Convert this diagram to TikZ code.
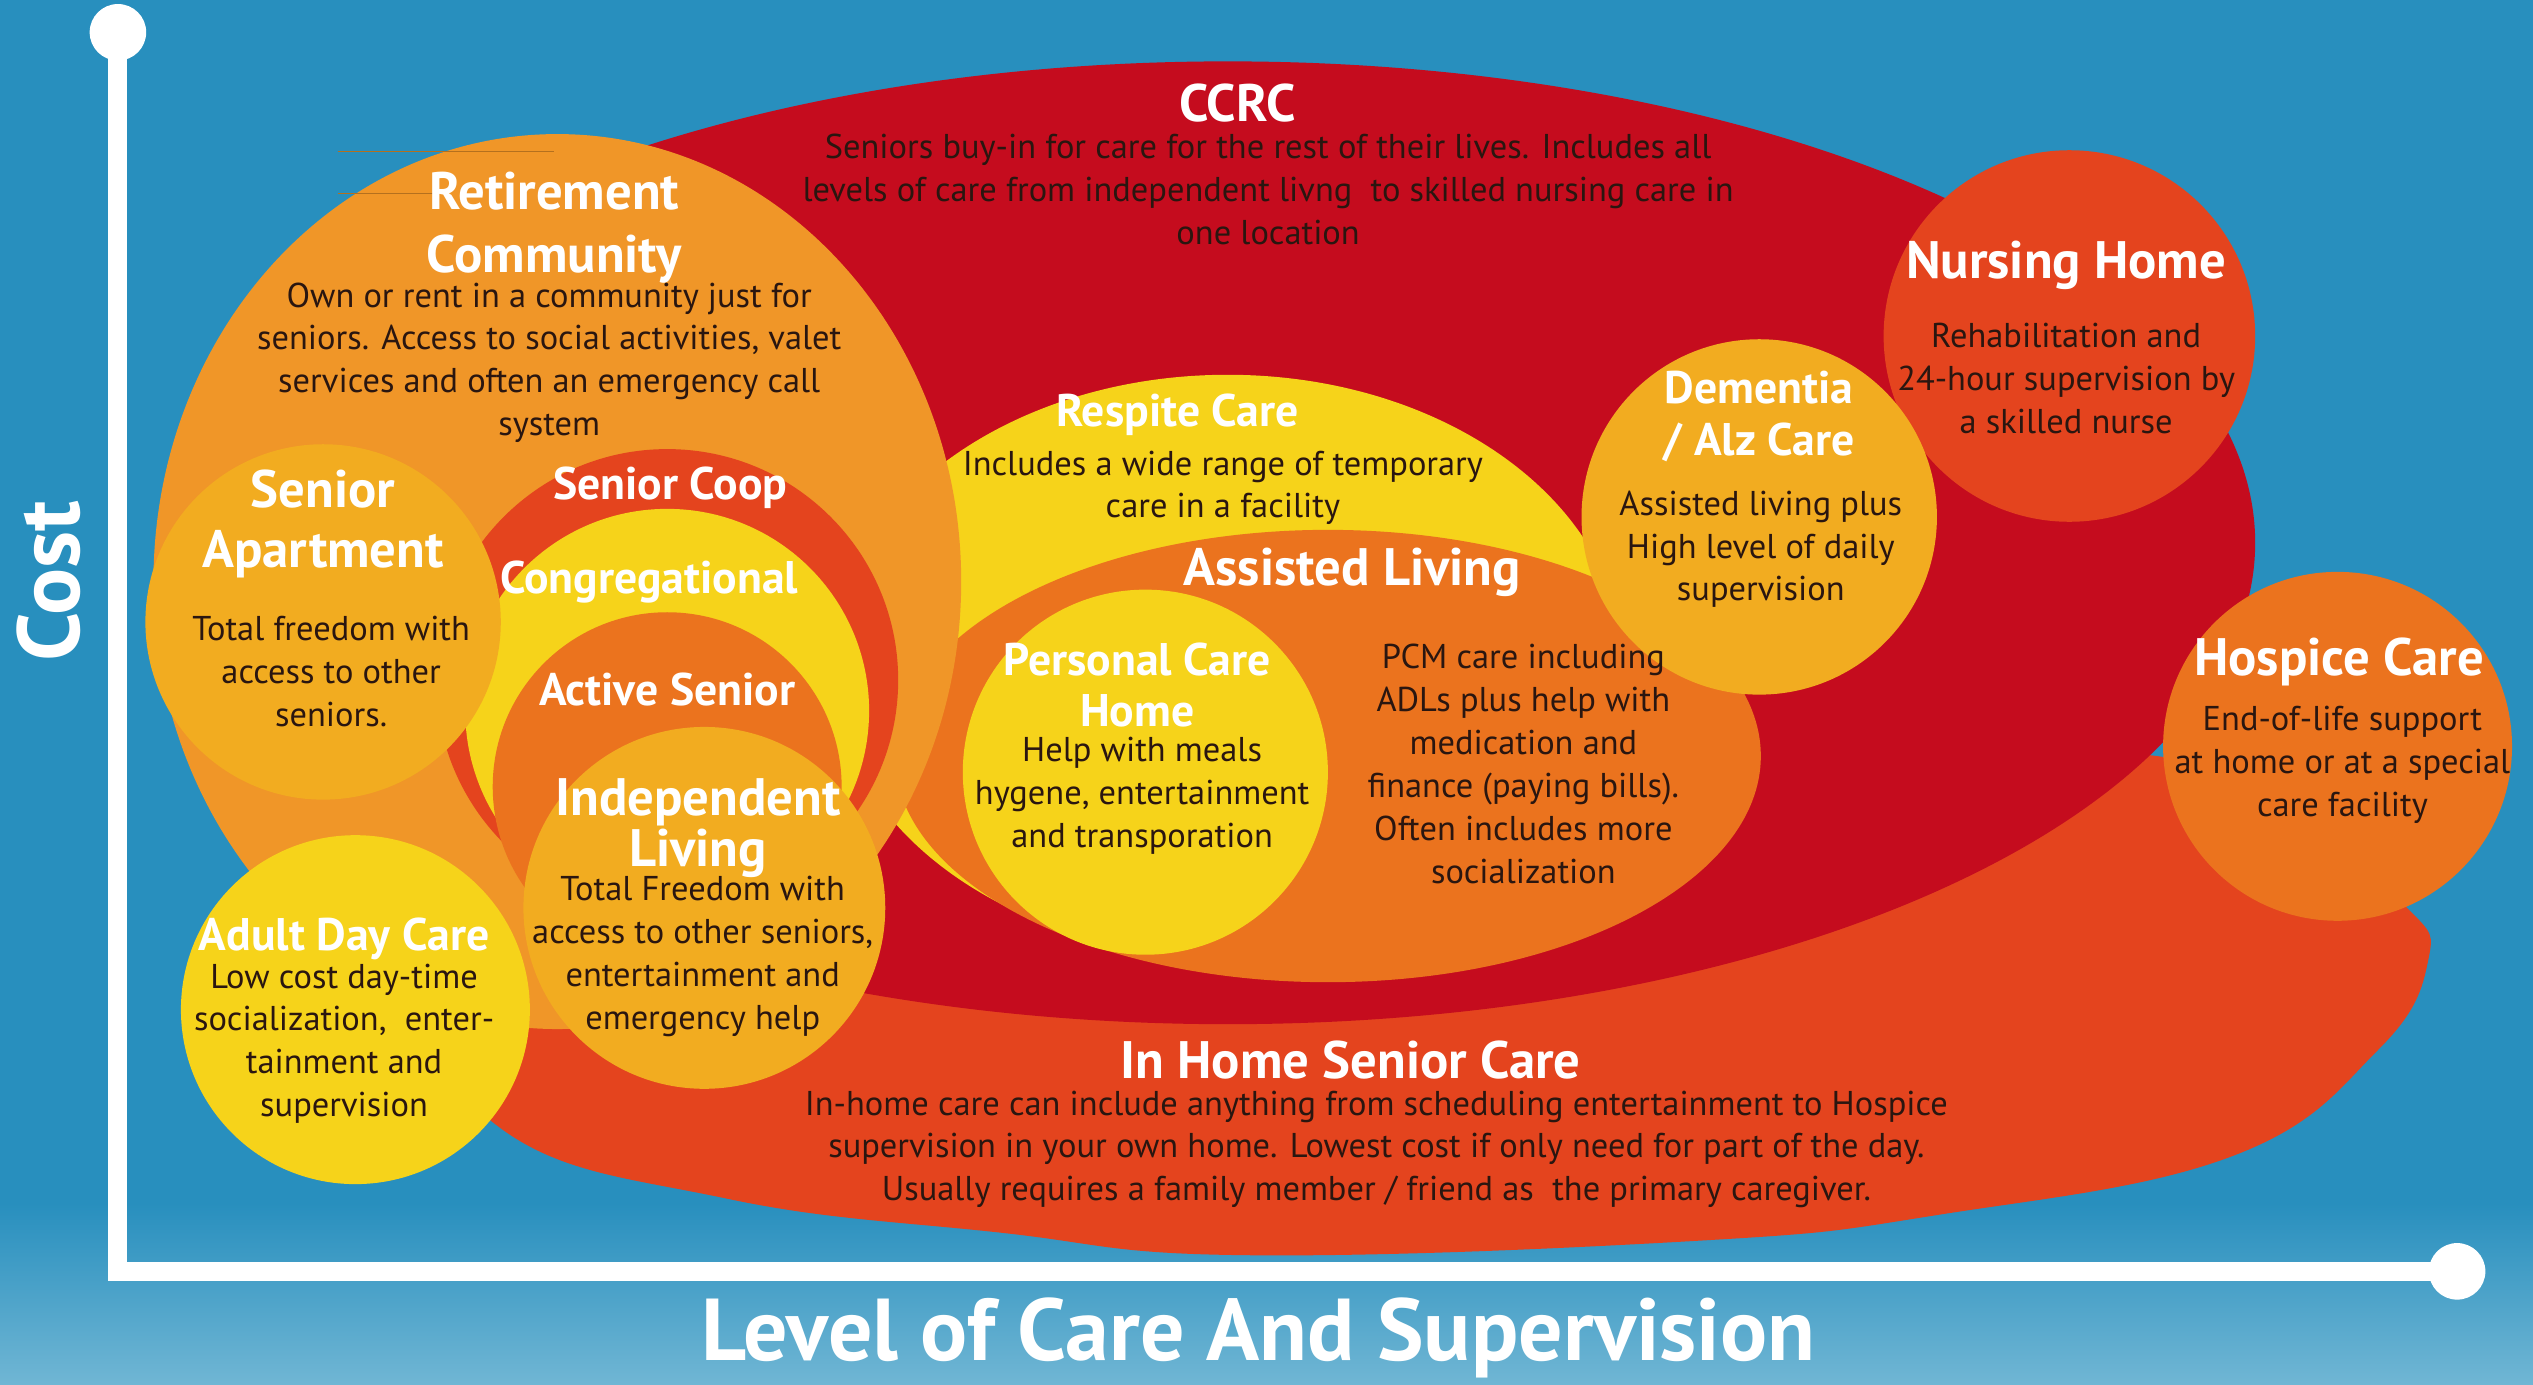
\documentclass[tikz,border=0pt]{standalone}
\usepackage{fontspec}
\setmainfont{PT Sans}
\usepackage{tikz}
\usetikzlibrary{positioning}

\definecolor{bgblue}{RGB}{40,143,190}
\definecolor{bglight}{RGB}{112,182,212}
\definecolor{ccrcred}{RGB}{197,12,30}
\definecolor{deeporange}{RGB}{228,68,30}
\definecolor{midorange}{RGB}{235,115,30}
\definecolor{lightorange}{RGB}{240,150,40}
\definecolor{goldfill}{RGB}{242,172,32}
\definecolor{sunyellow}{RGB}{246,211,26}
\definecolor{bodyink}{RGB}{42,22,16}

\tikzset{
  bubbletitle/.style={text=white, font=\bfseries\fontsize{13}{17.5}\selectfont, align=center, inner sep=0pt},
  bigtitle/.style={bubbletitle, font=\bfseries\fontsize{15}{17.5}\selectfont},
  bubbletext/.style={text=bodyink, font=\fontsize{9.8}{12.2}\selectfont, align=center, inner sep=0pt},
  axislabel/.style={text=white, font=\bfseries\fontsize{25}{30}\selectfont, inner sep=0pt},
}

\begin{document}
\begin{tikzpicture}[x=0.016155cm, y=-0.016155cm]
  \useasboundingbox (0,0) rectangle (1568,857);
  % Background
  \fill[bgblue] (0,0) rectangle (1568,857);
  \shade[top color=bgblue, bottom color=bglight] (0,745) rectangle (1568,857);

  % Bubbles, back to front
  \fill[deeporange] plot[smooth cycle, tension=0.7] coordinates {
    (250,590) (308,697) (450,742) (619,763) (771,777) (1052,768) (1200,752)
    (1381,716) (1472,650) (1503,595) (1490,562) (1420,512) (1335,468)
    (1100,470) (700,480) (400,520)};
  \fill[ccrcred] (760,336) ellipse [x radius=636, y radius=298];
  \fill[deeporange] (1281,208) circle (115);
  \fill[midorange] (1447,462) circle (108);
  \fill[sunyellow] (760,412) ellipse [x radius=245, y radius=180];
  \fill[midorange] (822,468) ellipse [x radius=268, y radius=140];
  \fill[sunyellow] (709,478) circle (113);
  \fill[goldfill] (1089,320) circle (110);
  \fill[lightorange] (345,360) ellipse [x radius=250, y radius=277];
  \draw[lightorange!75!black, line width=0.3pt] (209,94) -- (343,94);
  \draw[lightorange!75!black, line width=0.3pt] (209,120) -- (272,120);
  \fill[deeporange] (413,421) circle (143);
  \fill[sunyellow] (413,440) circle (125);
  \fill[midorange] (413,487) circle (108);
  \fill[goldfill] (200,385) circle (110);
  \fill[goldfill] (436,562) circle (112);
  \fill[sunyellow] (220,625) circle (108);

  % Axes
  \coordinate (costtop) at (73,20);
  \coordinate (origin) at (73,787);
  \coordinate (careend) at (1521,787);
  \draw[white, line width=5.4pt] (costtop) -- (origin) -- (careend);
  \fill[white] (costtop) circle (17.5);
  \fill[white] (careend) circle (17.5);
  \node[axislabel, rotate=90] (costlabel) at (30,360) {Cost};
  \node[axislabel] (carelabel) at (779,828) {Level of Care And Supervision};

  % Labels
  \node[bigtitle] (ccrctitle) at (766,64) {CCRC};
  \node[bubbletext] (ccrctext) at (785,117.5) {Seniors buy-in for care for the rest of their lives. Includes all\\levels of care from independent livng\ \ to skilled nursing care in\\one location};
  \node[bigtitle, font=\bfseries\fontsize{15}{18}\selectfont] (retiretitle) at (343,141) {Retirement\\Community};
  \node[bubbletext] (retiretext) at (340,224.5) {Own or rent in a community just for\\seniors. Access to social activities, valet\\services and often an emergency call\\system};
  \node[bigtitle, font=\bfseries\fontsize{15}{17}\selectfont] (apttitle) at (200,324.5) {Senior\\Apartment};
  \node[bubbletext] (apttext) at (205,415.5) {Total freedom with\\access to other\\seniors.};
  \node[bubbletitle] (cooptitle) at (415,302) {Senior Coop};
  \node[bubbletitle] (congtitle) at (402,360) {Congregational};
  \node[bubbletitle] (activetitle) at (413,427) {Active Senior};
  \node[bigtitle, font=\bfseries\fontsize{15}{11.5}\selectfont] (indeptitle) at (432,512.5) {Independent\\Living};
  \node[bubbletext] (indeptext) at (435,592) {Total Freedom with\\access to other seniors,\\entertainment and\\emergency help};
  \node[bubbletitle] (adulttitle) at (213,581) {Adult Day Care};
  \node[bubbletext] (adulttext) at (213,646) {Low cost day-time\\socialization,\ \ enter-\\tainment and\\supervision};
  \node[bubbletitle] (respitetitle) at (729,257) {Respite Care};
  \node[bubbletext] (respitetext) at (757,302) {Includes a wide range of temporary\\care in a facility};
  \node[bigtitle] (assistedtitle) at (837,354) {Assisted Living};
  \node[bubbletitle, font=\bfseries\fontsize{13}{14.7}\selectfont] (pchtitle) at (704,424) {Personal Care\\Home};
  \node[bubbletext] (pchtext) at (707,492.5) {Help with meals\\hygene, entertainment\\and transporation};
  \node[bubbletext] (assistedtext) at (943,473) {PCM care including\\ADLs plus help with\\medication and\\finance (paying bills).\\Often includes more\\socialization};
  \node[bubbletitle, font=\bfseries\fontsize{13}{14.7}\selectfont] (dementiatitle) at (1089,258) {Dementia\\/ Alz Care};
  \node[bubbletext] (dementiatext) at (1090,340) {Assisted living plus\\High level of daily\\supervision};
  \node[bigtitle] (nursingtitle) at (1279,164) {Nursing Home};
  \node[bubbletext] (nursingtext) at (1279,234.5) {Rehabilitation and\\24-hour supervision by\\a skilled nurse};
  \node[bigtitle] (hospicetitle) at (1448,410) {Hospice Care};
  \node[bubbletext] (hospicetext) at (1450,473.5) {End-of-life support\\at home or at a special\\care facility};
  \node[bigtitle] (inhometitle) at (836,656) {In Home Senior Care};
  \node[bubbletext] (inhometext) at (852,711.5) {In-home care can include anything from scheduling entertainment to Hospice\\supervision in your own home. Lowest cost if only need for part of the day.\\Usually requires a family member / friend as\ \ the primary caregiver.};
\end{tikzpicture}
\end{document}
